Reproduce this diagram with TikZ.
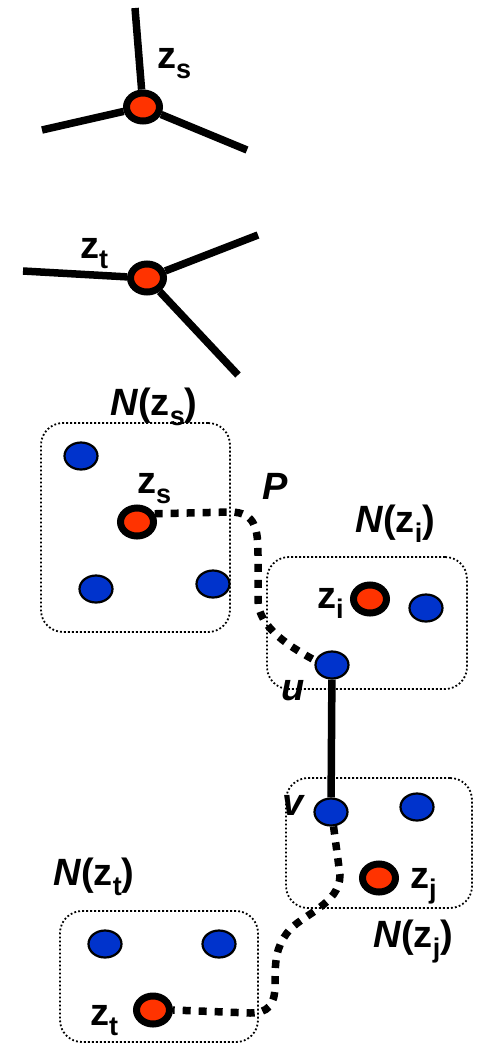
\documentclass[tikz,border=0pt]{standalone}
\usepackage{fontspec}
\setmainfont{Liberation Sans}
\usetikzlibrary{shapes.geometric}
\definecolor{rd}{RGB}{255,51,0}
\definecolor{bl}{RGB}{0,51,204}
\newcommand\zlab[1]{z\raisebox{-10pt}{\fontsize{27}{27}\selectfont #1}}
\begin{document}
\begin{tikzpicture}[x=1pt,y=-1pt,
 rednode/.style={ellipse,draw=black,fill=rd,line width=7pt,minimum width=33pt,minimum height=28pt,inner sep=0pt},
 bluenode/.style={ellipse,draw=black,fill=bl,line width=2.2pt,minimum width=33pt,minimum height=27pt,inner sep=0pt},
 edgeline/.style={line width=7.5pt},
 hood/.style={draw,line width=1.8pt,dash pattern=on 1.8pt off 2.2pt,rounded corners=22pt,inner sep=0pt},
 pathp/.style={line width=7.5pt,dash pattern=on 8pt off 8pt},
 lab/.style={font=\fontsize{38}{38}\selectfont\bfseries,anchor=base west,inner sep=0pt}]
\useasboundingbox (0,0) rectangle (488,1045);

% neighbourhood boxes
\node[hood,minimum width=189pt,minimum height=209pt] (Ns) at (135.5,527.5) {};
\node[hood,minimum width=200pt,minimum height=132pt] (Ni) at (367,623) {};
\node[hood,minimum width=186pt,minimum height=130pt] (Nj) at (379,843) {};
\node[hood,minimum width=198pt,minimum height=131pt] (Nt) at (159,976.5) {};

% star 1
\coordinate (s1a) at (135,8);
\coordinate (s1b) at (42,130);
\coordinate (s1c) at (247,150);
\node[rednode] (zs1) at (143,107) {};
\draw[edgeline] (zs1) -- (s1a);
\draw[edgeline] (zs1) -- (s1b);
\draw[edgeline] (zs1) -- (s1c);

% star 2
\coordinate (s2a) at (23,271);
\coordinate (s2b) at (258,235);
\coordinate (s2c) at (238,375);
\node[rednode] (zt1) at (147,278) {};
\draw[edgeline] (zt1) -- (s2a);
\draw[edgeline] (zt1) -- (s2b);
\draw[edgeline] (zt1) -- (s2c);

% nodes in N(zs)
\node[bluenode] (b1) at (81,456) {};
\node[rednode] (zs) at (137,522) {};
\node[bluenode] (b2) at (96,589) {};
\node[bluenode] (b3) at (213,584) {};

% nodes in N(zi)
\node[rednode] (zi) at (370,599) {};
\node[bluenode] (b4) at (426,608) {};
\node[bluenode] (u) at (332,665) {};

% nodes in N(zj)
\node[bluenode] (v) at (331,812) {};
\node[bluenode] (b5) at (417,807) {};
\node[rednode] (zj) at (379,878) {};

% nodes in N(zt)
\node[bluenode] (b6) at (105,944) {};
\node[bluenode] (b7) at (219,944) {};
\node[rednode] (zt) at (153,1010) {};

% edge u-v
\draw[edgeline] (u) -- (v);

% path P
\draw[pathp] (zs.25) -- (230,512) .. controls (256,512) and (258,530) .. (258,555) -- (258,600) .. controls (258,628) and (292,648) .. (u.165);
\draw[pathp] (v.-80) -- (340,875) .. controls (340,905) and (300,915) .. (287,933) .. controls (276,948) and (275,960) .. (275,985) .. controls (275,1005) and (268,1013) .. (250,1013) -- (zt.east);

% labels
\node[lab] (lzs1) at (157,68) {\zlab{s}};
\node[lab] (lzt1) at (80,258) {\zlab{t}};
\node[lab] (lNs) at (110,415) {\textit{N}(\zlab{s})};
\node[lab] (lzs) at (137,493) {\zlab{s}};
\node[lab] (lP) at (262,499) {\textit{P}};
\node[lab] (lNi) at (355,532) {\textit{N}(\zlab{i})};
\node[lab] (lzi) at (317,608) {\zlab{i}};
\node[lab] (lu) at (281,700) {\textit{u}};
\node[lab] (lv) at (282,815) {\textit{v}};
\node[lab] (lzj) at (410,888) {\zlab{j}};
\node[lab] (lNj) at (373,947) {\textit{N}(\zlab{j})};
\node[lab] (lNt) at (53,885) {\textit{N}(\zlab{t})};
\node[lab] (lzt) at (90,1025) {\zlab{t}};
\end{tikzpicture}
\end{document}
